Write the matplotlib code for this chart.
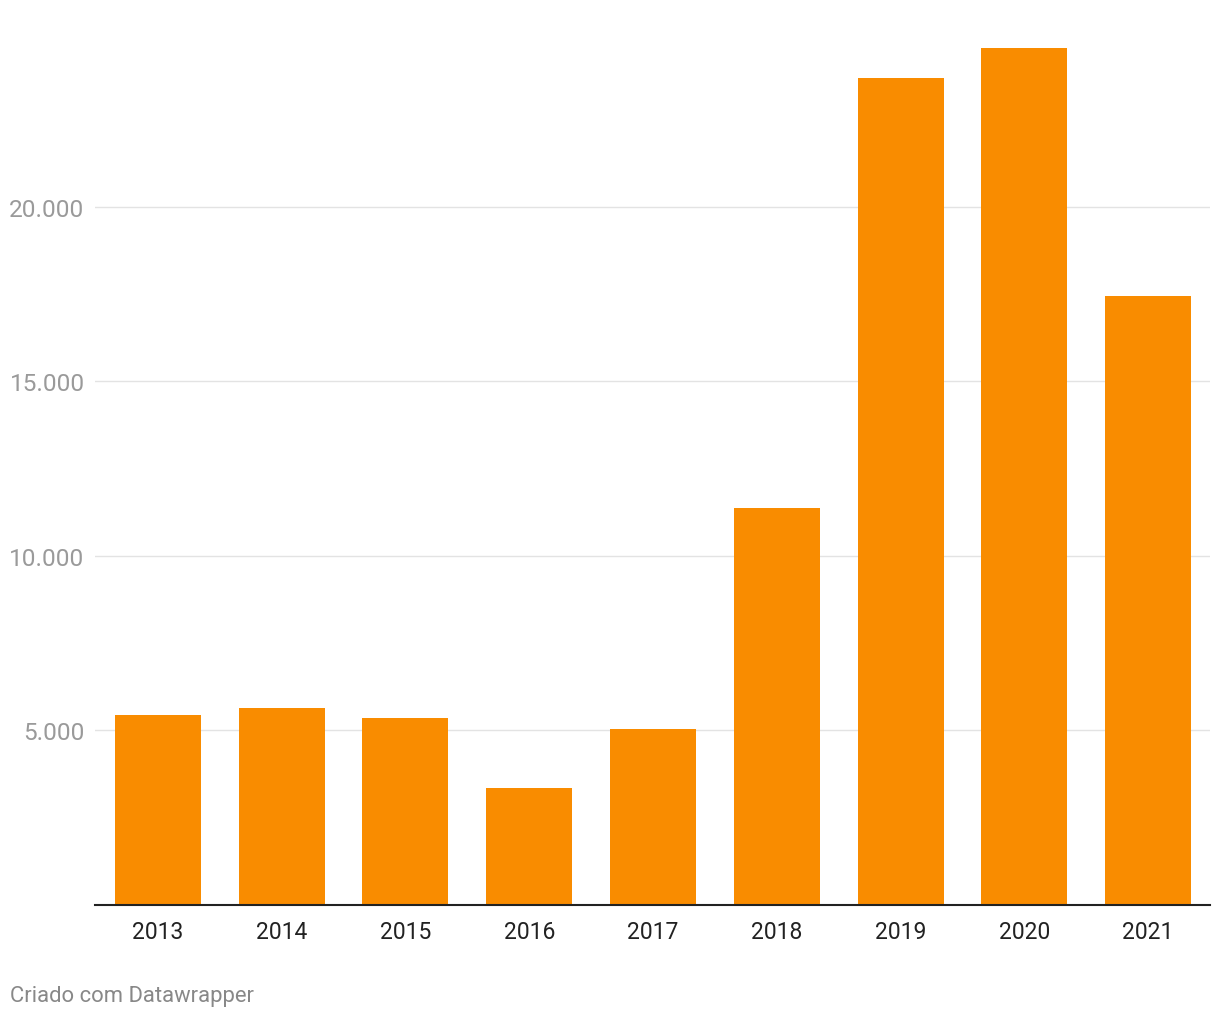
import matplotlib.pyplot as plt
from matplotlib.ticker import FuncFormatter

# Data
years = ['2013', '2014', '2015', '2016', '2017', '2018', '2019', '2020', '2021']
values = [5440, 5645, 5360, 3350, 5045, 11375, 23700, 24560, 17450]
yticks = [5000, 10000, 15000, 20000]

plt.rcParams['font.family'] = ['Roboto', 'DejaVu Sans']

fig = plt.figure(figsize=(12.2, 10.2), dpi=100)
ax = fig.add_axes([95 / 1220, 1 - 906 / 1020, (1210 - 95) / 1220, 876 / 1020])

x = list(range(len(years)))
ax.bar(x, values, width=0.695, color='#f98c00', zorder=3)

ax.set_xlim(-0.508, 8.5)
ax.set_ylim(0, 25100)

ax.set_yticks(yticks)
ax.yaxis.set_major_formatter(FuncFormatter(lambda v, p: f'{int(v):,}'.replace(',', '.')))
ax.grid(axis='y', color='#e3e3e3', linewidth=1, zorder=0)
ax.set_xticks(x)
ax.set_xticklabels(years)

ax.tick_params(axis='y', length=0, pad=7.5, labelsize=17.6, labelcolor='#9a9a9a')
ax.tick_params(axis='x', length=0, pad=11, labelsize=16.5, labelcolor='#222222')

for s in ['top', 'right', 'left']:
    ax.spines[s].set_visible(False)
ax.spines['bottom'].set_color('#222222')
ax.spines['bottom'].set_linewidth(1.5)
ax.spines['bottom'].set_zorder(4)

fig.text(10 / 1220, 1 - 997 / 1020, 'Criado com Datawrapper', fontsize=15.8,
         color='#888888', ha='left', va='center')

fig.savefig('out.png', dpi=100)
